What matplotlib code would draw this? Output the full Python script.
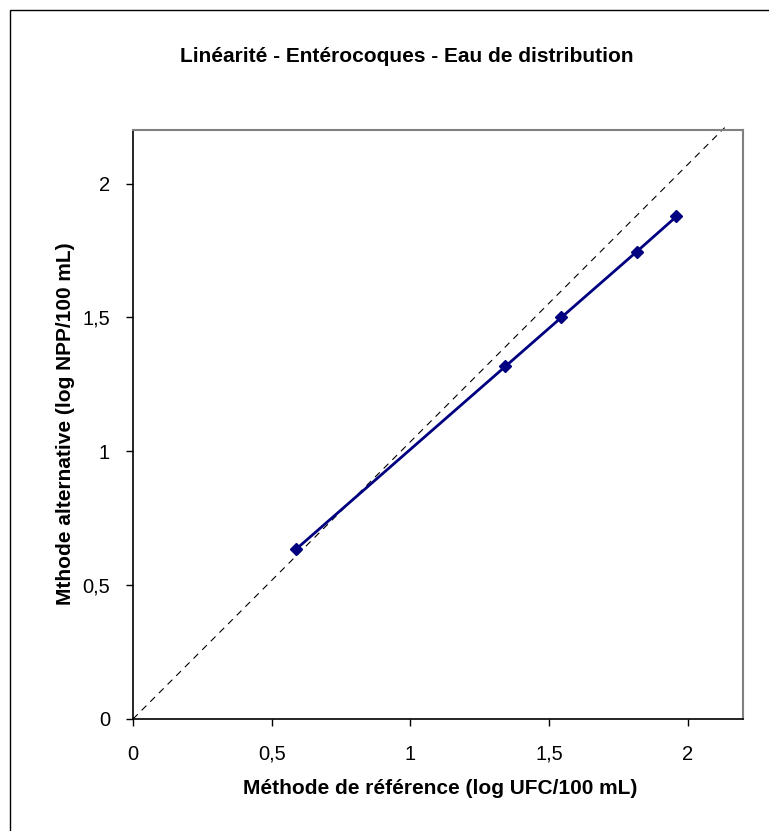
import matplotlib
matplotlib.use("Agg")
import matplotlib.pyplot as plt
from matplotlib.patches import Rectangle

# données (log)
ref_vals = [0.588, 1.343, 1.545, 1.816, 1.960]   # méthode de référence (log UFC/100 mL)
alt_vals = [0.634, 1.317, 1.500, 1.745, 1.877]   # méthode alternative (log NPP/100 mL)
diag_x = [0, 2.134]                              # droite de référence
diag_y = [0, 2.209]
ticks = [0, 0.5, 1, 1.5, 2]
tick_labels = ["0", "0,5", "1", "1,5", "2"]

plt.rcParams["font.family"] = ["Liberation Sans", "DejaVu Sans"]

fig = plt.figure(figsize=(7.69, 8.31), dpi=100)
ax = fig.add_axes([133/769, 1 - 719/831, (743 - 133)/769, (719 - 130)/831])

# cadre autour de la figure
fig.patches.append(Rectangle((10/769, -0.1), 1.2, 1 - 10/831 + 0.1, transform=fig.transFigure,
                             fill=False, edgecolor="black", linewidth=1.0))

ax.plot(diag_x, diag_y, color="black", linestyle=(0, (6, 5)), linewidth=0.8, clip_on=False)
ax.plot(ref_vals, alt_vals, color="#000080", linewidth=2, marker="D", markersize=6.5,
        markerfacecolor="#000080", markeredgecolor="#000080")

ax.set_xlim(0, 2.2)
ax.set_ylim(0, 2.2)
ax.set_xticks(ticks)
ax.set_xticklabels(tick_labels)
ax.set_yticks(ticks)
ax.set_yticklabels(tick_labels)
ax.tick_params(direction="out", length=5, width=1, labelsize=14.5, colors="black")
ax.tick_params(axis="x", pad=13.5)
ax.tick_params(axis="y", pad=11.5)

for s in ["left", "bottom"]:
    ax.spines[s].set_color("black")
    ax.spines[s].set_linewidth(1.2)
for s in ["top", "right"]:
    ax.spines[s].set_color("#808080")
    ax.spines[s].set_linewidth(1.5)

fig.text(407/769, 1 - 56/831, "Linéarité - Entérocoques - Eau de distribution",
         ha="center", va="center", fontsize=15, fontweight="bold")
fig.text(440/769, 1 - 789/831, "Méthode de référence (log UFC/100 mL)",
         ha="center", va="center", fontsize=15, fontweight="bold")
fig.text(66/769, 1 - 424/831, "Mthode alternative (log NPP/100 mL)",
         ha="center", va="center", rotation=90, fontsize=15, fontweight="bold")

fig.savefig("out.png", dpi=100)
